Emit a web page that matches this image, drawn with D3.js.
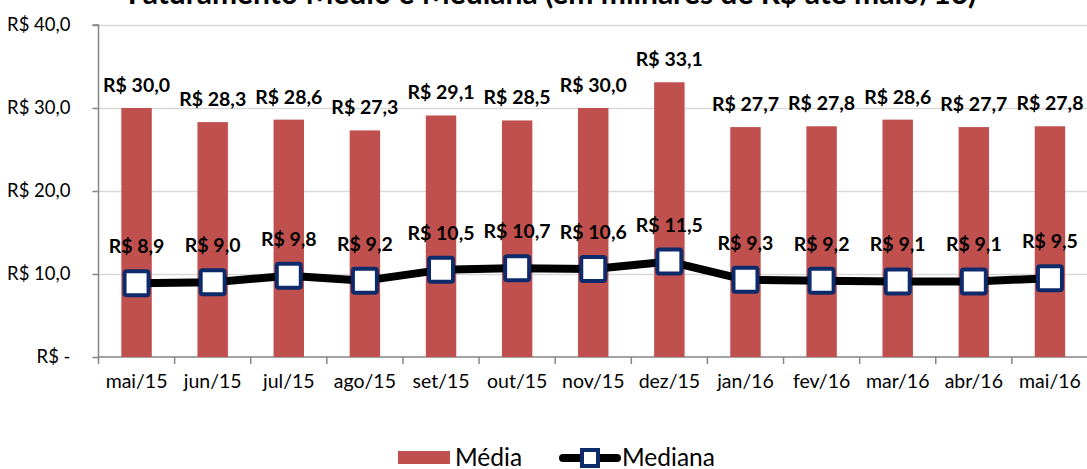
<!DOCTYPE html>
<html>
<head>
<meta charset="utf-8">
<script src="https://cdn.jsdelivr.net/npm/d3@7"></script>
<style>
  body { margin: 0; background: #fff; }
  text { font-family: Lato, "Open Sans", sans-serif; }
</style>
</head>
<body>
<svg id="chart" width="1087" height="469"></svg>
<script>
// data (thousands of R$)
var months = ["mai/15","jun/15","jul/15","ago/15","set/15","out/15","nov/15","dez/15","jan/16","fev/16","mar/16","abr/16","mai/16"];
var media = [30.0, 28.3, 28.6, 27.3, 29.1, 28.5, 30.0, 33.1, 27.7, 27.8, 28.6, 27.7, 27.8];
var mediana = [8.9, 9.0, 9.8, 9.2, 10.5, 10.7, 10.6, 11.5, 9.3, 9.2, 9.1, 9.1, 9.5];
var yTicks = [0, 10, 20, 30, 40];
var yTickLabels = ["R$ -", "R$ 10,0", "R$ 20,0", "R$ 30,0", "R$ 40,0"];

var red = "#C0504D", navy = "#0D2A6A";
var fmt = function(v){ return "R$ " + v.toFixed(1).replace(".", ","); };

var svg = d3.select("#chart");
var pL = 98.5, pR = 1088, pT = 25, pB = 357;

var x = d3.scaleBand().domain(months).range([pL, pR]).paddingInner(0.6).paddingOuter(0.3);
var xb = d3.scaleBand().domain(months).range([pL, pR]);
var y = d3.scaleLinear().domain([0, 40]).range([pB, pT]);

// title (cut at top edge as in reference)
svg.append("text")
  .attr("x", 552).attr("y", 3.5)
  .attr("text-anchor", "middle")
  .style("font-size", "30px").style("font-weight", "bold")
  .text("Faturamento Médio e Mediana (em milhares de R$ até  maio/16)");

// gridlines
svg.append("g").selectAll("line").data(yTicks.slice(1)).enter().append("line")
  .attr("x1", pL).attr("x2", pR)
  .attr("y1", function(d){ return y(d) + 0.5; }).attr("y2", function(d){ return y(d) + 0.5; })
  .attr("stroke", "#D9D9D9").attr("stroke-width", 1.3);

// y axis
var yAxis = svg.append("g").attr("transform", "translate(" + pL + ",0)")
  .call(d3.axisLeft(y).tickValues(yTicks).tickSize(6).tickPadding(22)
    .tickFormat(function(d, i){ return yTickLabels[i]; }));
yAxis.selectAll("path, line").attr("stroke", "#868686").attr("stroke-width", 1.5);
yAxis.select(".domain").attr("d", "M-6," + y(40) + "H0V" + pB);
yAxis.selectAll("text").style("font-size", "18.5px").attr("fill", "#000")
  .style("font-family", "Lato, sans-serif");

// x axis
var xAxis = svg.append("g").attr("transform", "translate(0," + pB + ")")
  .call(d3.axisBottom(xb).tickSize(0).tickPadding(17));
xAxis.select(".domain").attr("stroke", "#868686").attr("stroke-width", 1.5)
  .attr("d", "M" + pL + ",0H" + pR);
xAxis.selectAll("text").style("font-size", "19.5px").attr("fill", "#000")
  .style("font-family", "Lato, sans-serif");
svg.append("g").selectAll("line").data(months).enter().append("line")
  .attr("x1", function(d){ return xb(d); }).attr("x2", function(d){ return xb(d); })
  .attr("y1", pB).attr("y2", pB + 7)
  .attr("stroke", "#868686").attr("stroke-width", 1.5);

// bars
svg.append("g").selectAll("rect").data(media).enter().append("rect")
  .attr("x", function(d, i){ return x(months[i]); })
  .attr("width", x.bandwidth())
  .attr("y", function(d){ return y(d); })
  .attr("height", function(d){ return pB - y(d); })
  .attr("fill", red);

svg.append("g").selectAll("text").data(media).enter().append("text")
  .attr("x", function(d, i){ return xb(months[i]) + xb.bandwidth() / 2; })
  .attr("y", function(d){ return y(d) - 16; })
  .attr("text-anchor", "middle")
  .style("font-size", "19.5px").style("font-weight", "bold")
  .text(fmt);

// median line
var line = d3.line()
  .x(function(d, i){ return xb(months[i]) + xb.bandwidth() / 2; })
  .y(function(d){ return y(d); });
svg.append("path").datum(mediana)
  .attr("d", line).attr("fill", "none")
  .attr("stroke", "#000").attr("stroke-width", 8).attr("stroke-linejoin", "round");

var s = 24;
svg.append("g").selectAll("rect").data(mediana).enter().append("rect")
  .attr("x", function(d, i){ return xb(months[i]) + xb.bandwidth() / 2 - s / 2; })
  .attr("y", function(d){ return y(d) - s / 2; })
  .attr("width", s).attr("height", s).attr("rx", 2)
  .attr("fill", "#fff").attr("stroke", navy).attr("stroke-width", 4);

svg.append("g").selectAll("text").data(mediana).enter().append("text")
  .attr("x", function(d, i){ return xb(months[i]) + xb.bandwidth() / 2; })
  .attr("y", function(d){ return y(d) - 30; })
  .attr("text-anchor", "middle")
  .style("font-size", "19.5px").style("font-weight", "bold")
  .text(fmt);

// legend
var lg = svg.append("g");
lg.append("rect").attr("x", 398).attr("y", 451).attr("width", 52).attr("height", 13).attr("fill", red);
lg.append("text").attr("x", 455).attr("y", 466).style("font-size", "24.5px").text("Média");
lg.append("line").attr("x1", 563).attr("x2", 617).attr("y1", 458).attr("y2", 458)
  .attr("stroke", "#000").attr("stroke-width", 8).attr("stroke-linecap", "round");
lg.append("rect").attr("x", 582).attr("y", 450).attr("width", 16).attr("height", 16)
  .attr("fill", "#fff").attr("stroke", navy).attr("stroke-width", 4);
lg.append("text").attr("x", 622).attr("y", 466).style("font-size", "24.5px").text("Mediana");
</script>
</body>
</html>
